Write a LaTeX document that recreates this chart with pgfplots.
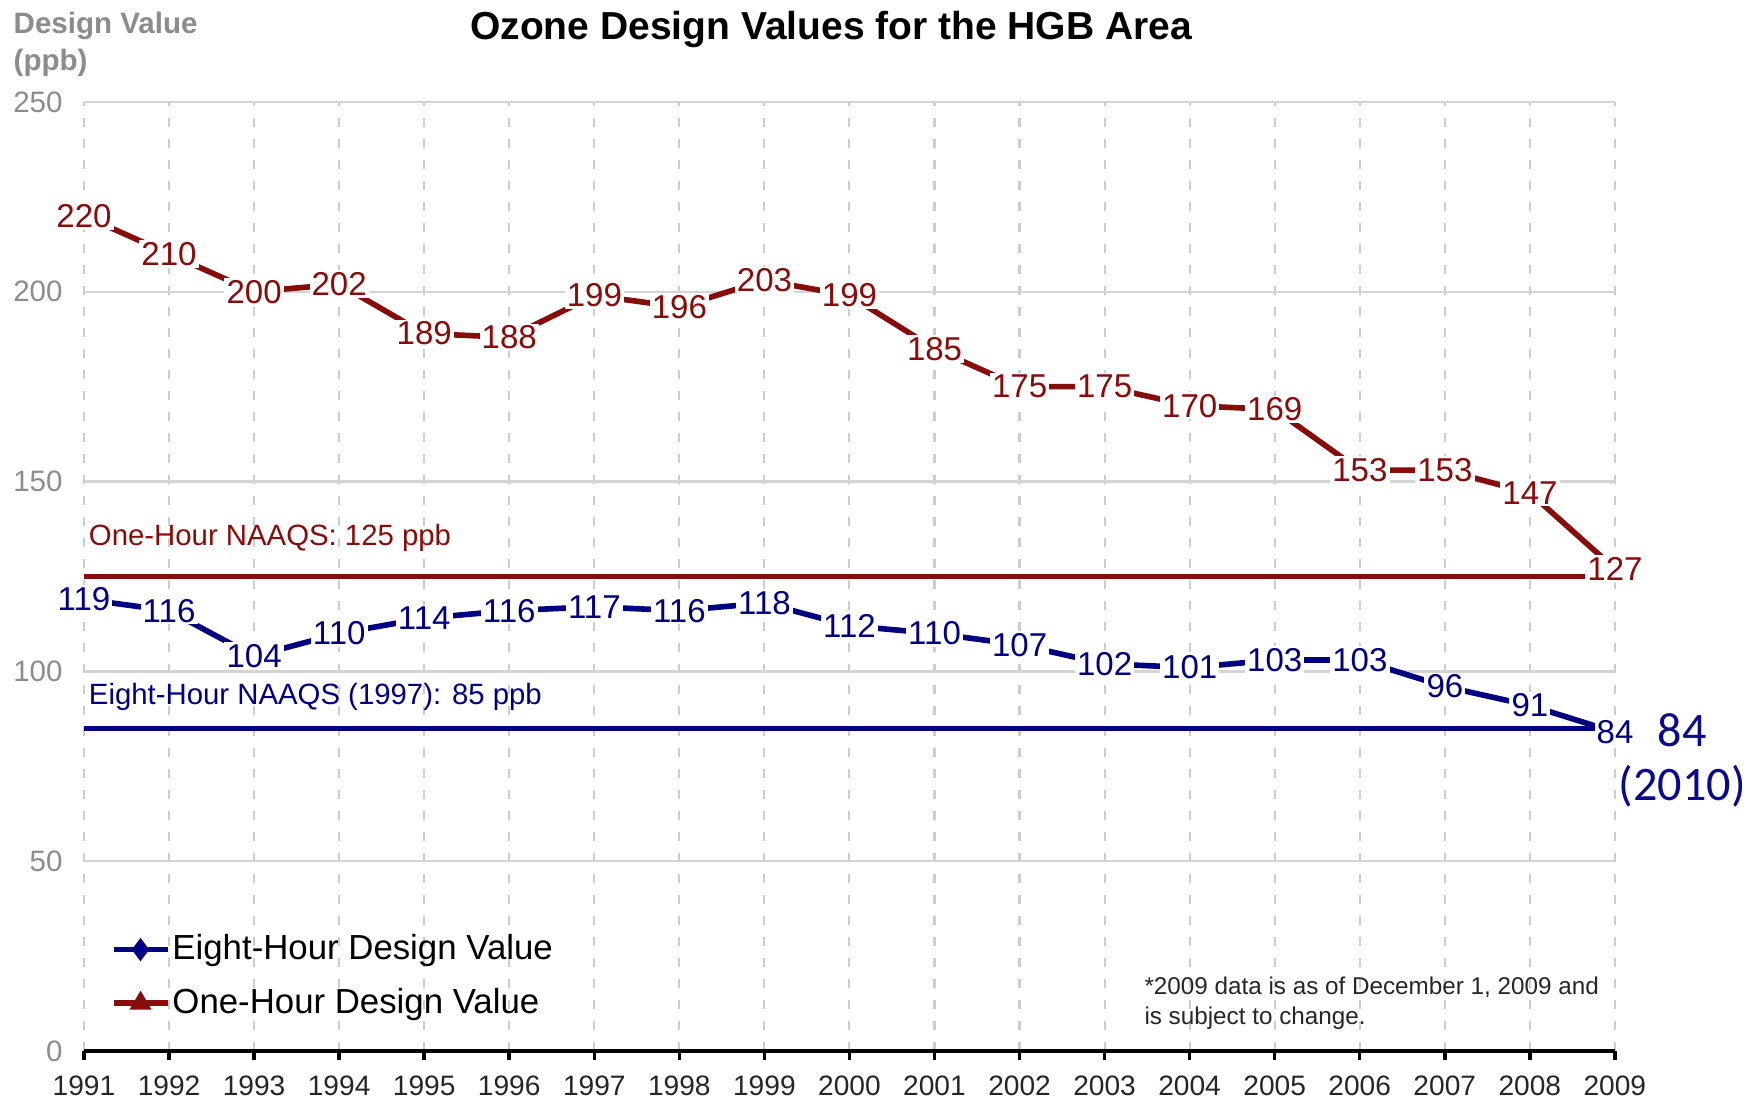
\documentclass[border=0pt]{standalone}
\usepackage{fontspec}
\setmainfont{Liberation Sans}
\newfontfamily\carlito{Carlito}
\usepackage{pgfplots}
\pgfplotsset{compat=1.18}
\definecolor{eightc}{RGB}{0,0,128}
\definecolor{onec}{RGB}{135,12,12}
\definecolor{annc}{RGB}{10,10,140}
\definecolor{tickgray}{RGB}{140,140,140}
\definecolor{gridgray}{RGB}{205,205,205}
\definecolor{hgridgray}{RGB}{212,212,212}

\begin{document}
\begin{tikzpicture}
\begin{axis}[
    width=153.1mm, height=94.9mm, scale only axis,
    xmin=1991, xmax=2009, ymin=0, ymax=250,
    xtick={1991,...,2009}, ytick={0,50,...,250},
    axis line style={draw=none},
    clip=false,
    xmajorgrids, ymajorgrids,
    x grid style={gridgray, dash pattern=on 0.9mm off 1.2mm, line width=0.6pt},
    y grid style={hgridgray, line width=0.7pt},
    tick align=outside, xtick pos=bottom, ytick pos=left,
    xtick style={black, line width=1pt},
    ytick style={draw=none},
    major tick length=0.9mm,
    /pgf/number format/1000 sep={},
    /pgf/number format/assume math mode=true,
    xticklabel style={font=\fontsize{8}{9}\selectfont, text=black!85, yshift=-0.3mm},
    yticklabel style={font=\fontsize{8.4}{10}\selectfont, text=tickgray},
    legend style={draw=none, fill=none, at={(rel axis cs:0.017,0.131)}, anchor=north west,
        font=\fontsize{9.9}{11}\selectfont, row sep=0.9mm, inner sep=0pt,
        nodes={inner xsep=0.6pt}},
    legend image code/.code={\draw[mark repeat=2, mark phase=2, #1]
        plot coordinates {(0mm,0mm) (2.7mm,0mm) (5.4mm,0mm)};},
    legend cell align=left,
]
% standards
\addplot[onec, line width=1.3pt, forget plot] coordinates {(1991,125) (2009,125)};
\addplot[eightc, line width=1.5pt, forget plot] coordinates {(1991,85) (2009,85)};

% one-hour design values
\addplot[onec, line width=1.6pt, forget plot, nodes near coords,
    every node near coord/.append style={anchor=center, fill=white, inner sep=0.6pt,
        text=onec, font=\fontsize{9.4}{11}\selectfont}]
coordinates {(1991,220) (1992,210) (1993,200) (1994,202) (1995,189) (1996,188)
    (1997,199) (1998,196) (1999,203) (2000,199) (2001,185) (2002,175) (2003,175)
    (2004,170) (2005,169) (2006,153) (2007,153) (2008,147) (2009,127)};

% eight-hour design values
\addplot[eightc, line width=1.6pt, forget plot, nodes near coords,
    every node near coord/.append style={anchor=center, fill=white, inner sep=0.6pt,
        text=eightc, font=\fontsize{9.4}{11}\selectfont}]
coordinates {(1991,119) (1992,116) (1993,104) (1994,110) (1995,114) (1996,116)
    (1997,117) (1998,116) (1999,118) (2000,112) (2001,110) (2002,107) (2003,102)
    (2004,101) (2005,103) (2006,103) (2007,96) (2008,91) (2009,84)};

\addlegendimage{eightc, line width=1.6pt, mark=diamond*, mark size=2pt}
\addlegendentry{Eight-Hour Design Value}
\addlegendimage{onec, line width=1.6pt, mark=triangle*, mark size=2pt}
\addlegendentry{One-Hour Design Value}

\draw[black, line width=1.3pt] (rel axis cs:0,0) -- (rel axis cs:1,0);

\node[anchor=west, inner sep=0pt, text=onec, font=\fontsize{8.35}{10}\selectfont]
    at (axis cs:1991.05,135.1) {One-Hour NAAQS: 125 ppb};
\node[anchor=west, inner sep=0pt, text=eightc, font=\fontsize{8.35}{10}\selectfont]
    at (axis cs:1991.05,93.3) {Eight-Hour NAAQS (1997): 85 ppb};

\node[anchor=west, inner sep=0pt, text=black!85, font=\fontsize{6.9}{8}\selectfont]
    at (axis cs:2003.46,16.9) {*2009 data is as of December 1, 2009 and};
\node[anchor=west, inner sep=0pt, text=black!85, font=\fontsize{6.9}{8}\selectfont]
    at (axis cs:2003.46,8.7) {is subject to change.};

\node[text=annc, font=\carlito\fontsize{13.7}{16}\selectfont] at (axis cs:2009.79,84.6) {84};
\node[text=annc, font=\carlito\fontsize{13.7}{16}\selectfont] at (axis cs:2009.79,69.8) {(2010)};

\node[yshift=7.2mm, font=\bfseries\fontsize{11.1}{13}\selectfont]
    at (rel axis cs:0.488,1) {Ozone Design Values for the HGB Area};
\node[anchor=west, inner sep=0pt, xshift=-7.1mm, yshift=7.6mm, text=tickgray,
    font=\bfseries\fontsize{8.4}{10}\selectfont] at (rel axis cs:0,1) {Design Value};
\node[anchor=west, inner sep=0pt, xshift=-7.1mm, yshift=3.9mm, text=tickgray,
    font=\bfseries\fontsize{8.4}{10}\selectfont] at (rel axis cs:0,1) {(ppb)};

\path ([xshift=-8.4mm,yshift=-5.6mm]rel axis cs:0,0) rectangle ([xshift=14.3mm,yshift=9.9mm]rel axis cs:1,1);
\end{axis}
\end{tikzpicture}
\end{document}
